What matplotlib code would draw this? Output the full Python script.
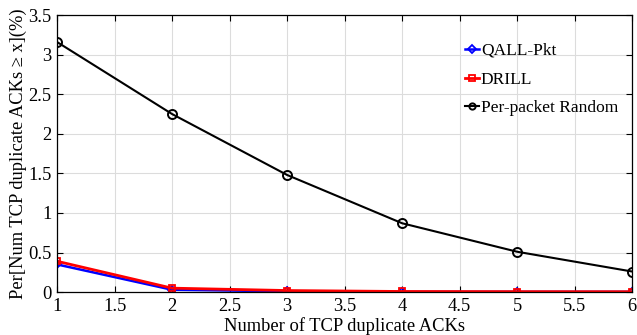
import matplotlib
matplotlib.use("Agg")
import matplotlib.pyplot as plt

# Données
x = [1, 2, 3, 4, 5, 6]
qall_pkt = [0.35, 0.03, 0.01, 0.003, 0.003, 0.003]
drill = [0.39, 0.05, 0.02, 0.008, 0.006, 0.005]
per_packet_random = [3.16, 2.25, 1.48, 0.87, 0.51, 0.26]

plt.rcParams["font.family"] = ["Liberation Serif", "DejaVu Serif"]
plt.rcParams["font.size"] = 13.3

fig = plt.figure(figsize=(6.37, 3.35), dpi=100)
ax = fig.add_axes([0.0895, 0.128, 0.903, 0.827])

ax.plot(x, qall_pkt, color="blue", marker="D", markersize=4.5, markerfacecolor="none",
        markeredgewidth=1.3, linewidth=1.8, label="QALL-Pkt")
ax.plot(x, drill, color="red", marker="s", markersize=5, markerfacecolor="none",
        markeredgewidth=1.3, linewidth=2.0, label="DRILL")
ax.plot(x, per_packet_random, color="black", marker="o", markersize=6.5, markerfacecolor="none",
        markeredgewidth=1.4, linewidth=1.5, label="Per-packet Random")

ax.set_xlim(1, 6)
ax.set_ylim(0, 3.5)
ax.set_xticks([1, 1.5, 2, 2.5, 3, 3.5, 4, 4.5, 5, 5.5, 6])
ax.set_xticklabels(["1", "1.5", "2", "2.5", "3", "3.5", "4", "4.5", "5", "5.5", "6"])
ax.set_yticks([0, 0.5, 1, 1.5, 2, 2.5, 3, 3.5])
ax.set_yticklabels(["0", "0.5", "1", "1.5", "2", "2.5", "3", "3.5"])
ax.grid(True, color="#dcdcdc", linewidth=0.8)
ax.set_axisbelow(True)
ax.tick_params(direction="in", top=True, right=True, length=4, width=0.8, pad=4)
for s in ax.spines.values():
    s.set_linewidth(0.9)

ax.set_xlabel("Number of TCP duplicate ACKs", labelpad=2)
ax.set_ylabel("Per[Num TCP duplicate ACKs \u2265 x](%)", labelpad=1)

leg = ax.legend(loc="upper left", bbox_to_anchor=(0.697, 0.925), frameon=False,
                handlelength=0.8, handletextpad=0.12, labelspacing=0.72,
                fontsize=12.5, borderaxespad=0)
for h in leg.legend_handles:
    h.set_markersize(4.5)

plt.savefig("out.png", dpi=100)
plt.close()
